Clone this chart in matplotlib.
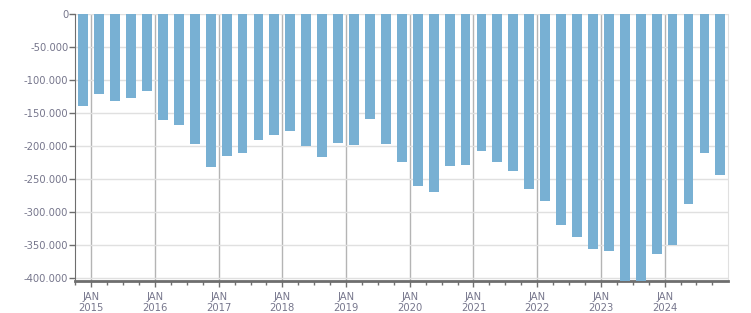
import matplotlib
matplotlib.use('Agg')
import matplotlib.pyplot as plt
from matplotlib.ticker import FuncFormatter, FixedLocator

# quarterly values, Q4 2014 .. Q4 2024
quarters = ['2014Q4',
            '2015Q1', '2015Q2', '2015Q3', '2015Q4',
            '2016Q1', '2016Q2', '2016Q3', '2016Q4',
            '2017Q1', '2017Q2', '2017Q3', '2017Q4',
            '2018Q1', '2018Q2', '2018Q3', '2018Q4',
            '2019Q1', '2019Q2', '2019Q3', '2019Q4',
            '2020Q1', '2020Q2', '2020Q3', '2020Q4',
            '2021Q1', '2021Q2', '2021Q3', '2021Q4',
            '2022Q1', '2022Q2', '2022Q3', '2022Q4',
            '2023Q1', '2023Q2', '2023Q3', '2023Q4',
            '2024Q1', '2024Q2', '2024Q3', '2024Q4']
values = [-140000,
          -122000, -132000, -128000, -117000,
          -161000, -169000, -197000, -232000,
          -216000, -211000, -191000, -184000,
          -178000, -200000, -217000, -196000,
          -199000, -160000, -197000, -224000,
          -261000, -270000, -230000, -229000,
          -208000, -224000, -238000, -265000,
          -283000, -320000, -339000, -356000,
          -359000, -410000, -410000, -364000,
          -350000, -288000, -211000, -244000]
years = list(range(2015, 2025))

text_col = '#76768c'
dark = '#6e6e6e'

# months since Jan 2015, bar centred in the middle of its quarter
x = [(int(q[:4]) - 2015) * 12 + (int(q[5]) - 1) * 3 + 1.5 for q in quarters]

fig = plt.figure(figsize=(7.51, 3.13), dpi=100)
ax = fig.add_axes([0.1003, 0.1032, 0.8695, 0.853])

ax.bar(x, values, width=1.85, color='#78b0d3', zorder=3)

ax.set_xlim(-3, 120)
ax.set_ylim(-404500, 0)

ax.set_yticks(range(-400000, 1, 50000))
ax.yaxis.set_major_formatter(FuncFormatter(lambda v, p: f"{int(v):,}".replace(',', '.')))
ax.grid(axis='y', color='#e0e0e0', lw=1, zorder=0)

jan = [(y - 2015) * 12 for y in years]
ax.set_xticks(jan)
ax.set_xticklabels([f"JAN\n{y}" for y in years])
ax.xaxis.set_minor_locator(FixedLocator([m for m in range(-3, 121, 3) if m % 12 != 0]))
ax.grid(axis='x', which='major', color='#b4b4b4', lw=1, zorder=1)

ax.tick_params(axis='y', colors=dark, labelcolor=text_col, labelsize=7.2, length=4, width=1, pad=1)
ax.tick_params(axis='x', which='major', colors=dark, labelcolor=text_col, labelsize=7.2, length=4, width=1, pad=4)
ax.tick_params(axis='x', which='minor', colors=dark, length=3, width=1)

ax.spines['top'].set_visible(False)
ax.spines['right'].set_color('#e0e0e0')
ax.spines['left'].set_color(dark)
ax.spines['bottom'].set_color(dark)
ax.spines['bottom'].set_linewidth(2)

fig.savefig('out.png', dpi=100)
